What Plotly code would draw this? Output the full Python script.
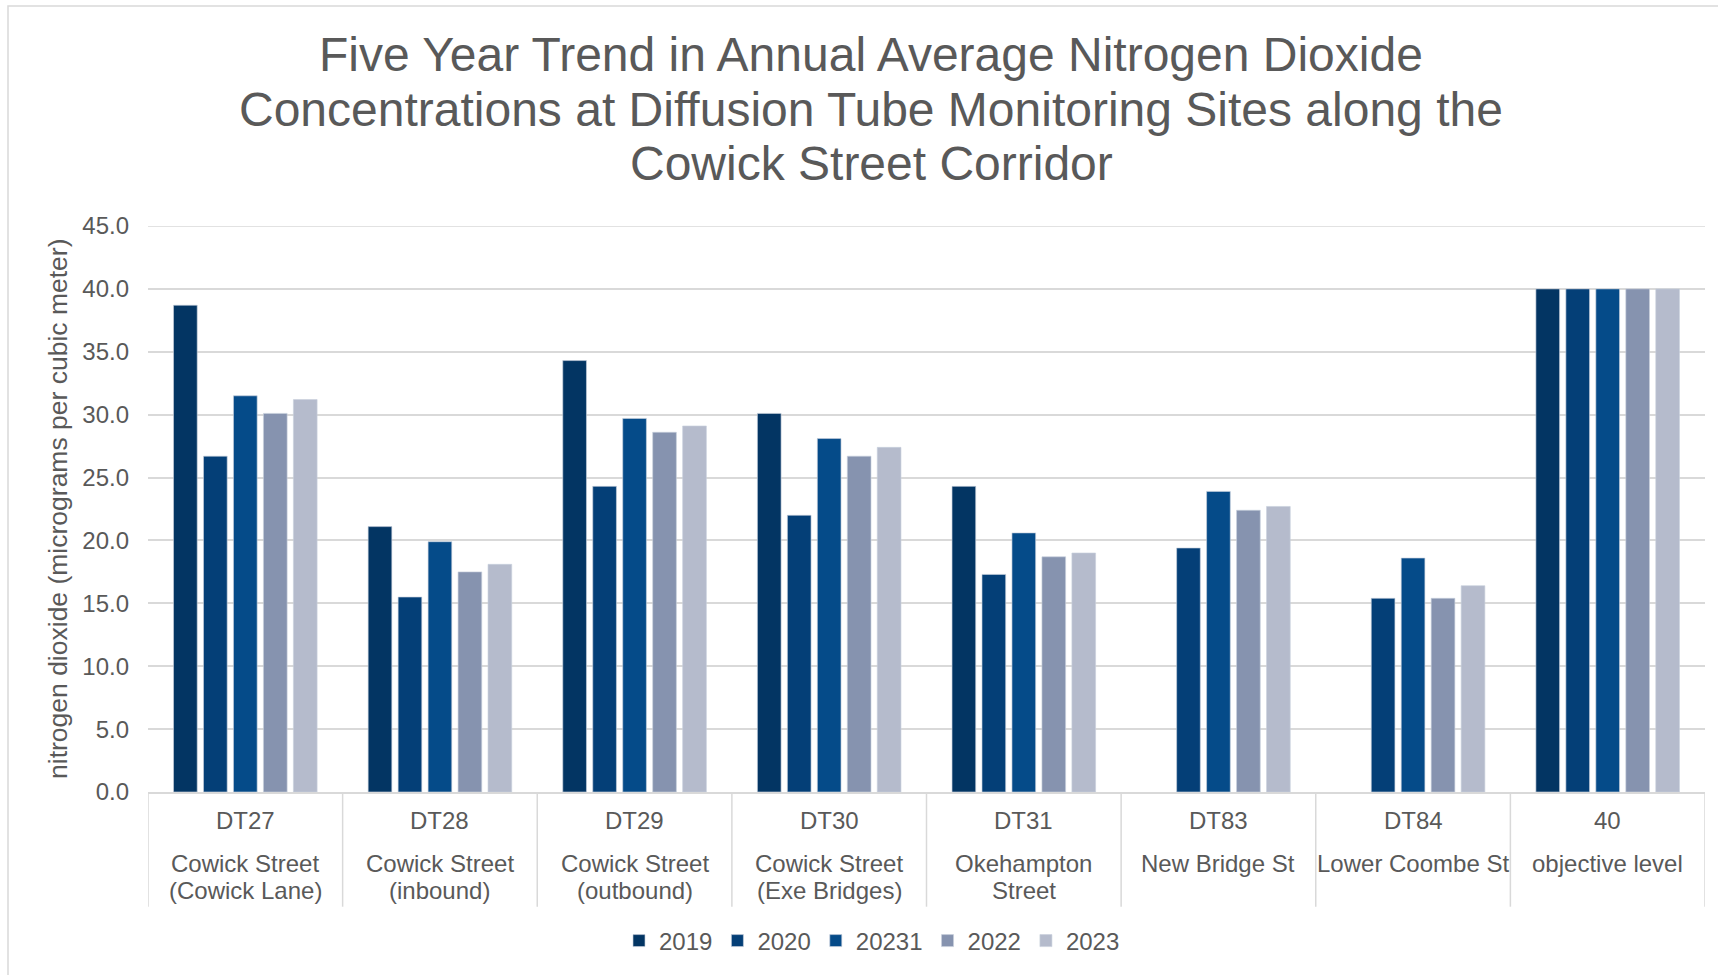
import plotly.graph_objects as go

# Monitoring sites (site code + wrapped description lines)
site_codes = ["DT27", "DT28", "DT29", "DT30", "DT31", "DT83", "DT84", "40"]
site_names = [
    ["Cowick Street", "(Cowick Lane)"],
    ["Cowick Street", "(inbound)"],
    ["Cowick Street", "(outbound)"],
    ["Cowick Street", "(Exe Bridges)"],
    ["Okehampton", "Street"],
    ["New Bridge St"],
    ["Lower Coombe St"],
    ["objective level"],
]

# Annual mean NO2 (µg/m³) per series
series_names = ["2019", "2020", "20231", "2022", "2023"]
no2_2019 = [38.7, 21.1, 34.3, 30.1, 24.3, None, None, 40]
no2_2020 = [26.7, 15.5, 24.3, 22.0, 17.3, 19.4, 15.4, 40]
no2_20231 = [31.5, 19.9, 29.7, 28.1, 20.6, 23.9, 18.6, 40]
no2_2022 = [30.1, 17.5, 28.6, 26.7, 18.7, 22.4, 15.4, 40]
no2_2023 = [31.2, 18.1, 29.1, 27.4, 19.0, 22.7, 16.4, 40]
series_values = [no2_2019, no2_2020, no2_20231, no2_2022, no2_2023]

y_ticks = [0, 5, 10, 15, 20, 25, 30, 35, 40, 45]
y_max = 45

title_lines = [
    "Five Year Trend in Annual Average Nitrogen Dioxide",
    "Concentrations at Diffusion Tube Monitoring Sites along the",
    "Cowick Street Corridor",
]

colors = ["#033563", "#043f77", "#054b89", "#8693af", "#b5bbcc"]
FONT = "Liberation Sans, Arial, sans-serif"
TXT = "#595959"
GRID = "#d9d9d9"

W, H = 1718, 975
ML, MR, MT, MB = 148, 13, 226, 183
PW, PH = W - ML - MR, H - MT - MB

fig = go.Figure()
for name, vals, col in zip(series_names, series_values, colors):
    fig.add_trace(go.Bar(
        x=site_codes, y=vals, name=name,
        marker=dict(color=col, line=dict(color="rgba(200,207,220,0.8)", width=0.8)),
    ))

annotations = []
# category labels under the axis (positioned by category index)
for i, (code, lines) in enumerate(zip(site_codes, site_names)):
    annotations.append(dict(x=i, xref="x", y=0, yref="paper", yshift=-28.7,
                            text=code, showarrow=False, yanchor="middle", xanchor="center",
                            font=dict(family=FONT, size=24, color=TXT)))
    for k, ln in enumerate(lines):
        annotations.append(dict(x=i, xref="x", y=0, yref="paper", yshift=-71.6 - 27 * k,
                                text=ln, showarrow=False, yanchor="middle", xanchor="center",
                                font=dict(family=FONT, size=24, color=TXT)))

# chart title, one annotation per line
title_cx = (871 - ML) / PW
for k, ln in enumerate(title_lines):
    annotations.append(dict(x=title_cx, xref="paper", y=1, yref="paper",
                            yshift=171.5 - 54.7 * k, text=ln, showarrow=False,
                            yanchor="middle", xanchor="center",
                            font=dict(family=FONT, size=48, color=TXT)))

# y axis title
annotations.append(dict(x=0, xref="paper", xshift=58 - ML, y=0.5, yref="paper",
                        text="nitrogen dioxide (micrograms per cubic meter)",
                        textangle=-90, showarrow=False, xanchor="center", yanchor="middle",
                        font=dict(family=FONT, size=26.5, color=TXT)))

shapes = []
# top gridline at the axis maximum (plotly skips the grid line at the range edge)
shapes.append(dict(type="line", xref="paper", yref="y", x0=0, x1=1, y0=y_max, y1=y_max,
                   line=dict(color=GRID, width=1.5), layer="below"))
# category dividers below the axis
div_len = (906.7 - 792) / PH
for i in range(len(site_codes) + 1):
    shapes.append(dict(type="line", xref="x", yref="paper", x0=i - 0.5, x1=i - 0.5,
                       y0=0, y1=-div_len, line=dict(color=GRID, width=1.5)))
# chart area border
shapes.append(dict(type="rect", xref="paper", yref="paper",
                   x0=(8 - ML) / PW, x1=(W + 5 - ML) / PW,
                   y0=-(H + 5 - (H - MB)) / PH, y1=((H - MB) - 6) / PH,
                   line=dict(color=GRID, width=1.5), fillcolor="rgba(0,0,0,0)", layer="below"))

fig.update_layout(
    width=W, height=H,
    margin=dict(l=ML, r=MR, t=MT, b=MB, autoexpand=False),
    paper_bgcolor="white", plot_bgcolor="white",
    barmode="group", bargap=0.23, bargroupgap=0.21,
    font=dict(family=FONT, size=24, color=TXT),
    showlegend=True,
    legend=dict(orientation="h", x=(872 - ML) / PW, xanchor="center",
                y=-149 / PH, yanchor="middle", font=dict(family=FONT, size=24, color=TXT),
                itemwidth=30, bgcolor="rgba(0,0,0,0)"),
    annotations=annotations,
    shapes=shapes,
)
fig.update_xaxes(type="category", showticklabels=False, ticks="", showgrid=False,
                 showline=True, linecolor=GRID, linewidth=1.5, range=[-0.5, 7.5])
fig.update_yaxes(range=[0, y_max], tickvals=y_ticks, ticktext=[f"{v:.1f}" for v in y_ticks],
                 showgrid=True, gridcolor=GRID, gridwidth=1.5, zeroline=False,
                 showline=False, ticks="", ticklabelstandoff=18,
                 tickfont=dict(family=FONT, size=24, color=TXT))

fig.write_html("out.html")
